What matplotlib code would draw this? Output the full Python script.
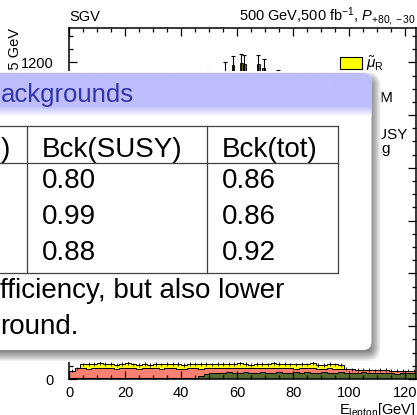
import numpy as np
import matplotlib.pyplot as plt
from matplotlib.patches import FancyBboxPatch, Rectangle
from matplotlib.ticker import MultipleLocator

plt.rcParams['font.family'] = ['Liberation Sans', 'DejaVu Sans']
plt.rcParams['mathtext.fontset'] = 'custom'
plt.rcParams['mathtext.rm'] = 'Liberation Sans'
plt.rcParams['mathtext.it'] = 'Liberation Sans:italic'
plt.rcParams['mathtext.bf'] = 'Liberation Sans:bold'

# lepton energy spectrum, 2 GeV bins
edges = np.arange(0, 126, 2)
sm = [3, 4, 3, 4, 4, 3, 4, 3, 4, 4, 3, 4, 3, 4, 4, 3, 4, 3, 4, 3, 4, 4, 5,
      11, 19, 23, 24, 22, 25, 24, 23, 25, 22, 24, 26, 23, 24, 25, 22, 24,
      26, 23, 25, 24, 22, 25, 23, 24, 26, 22, 24, 23, 25, 22, 24, 21, 23, 22, 20, 23, 21, 22]
susy = [28, 36, 38, 35, 37, 39, 36, 38, 35, 37, 39, 36, 34, 37, 36, 38, 35, 37, 39, 36, 34, 37, 35,
        28, 21, 17, 16, 19, 15, 17, 19, 15, 18, 16, 14, 17, 18, 15, 19, 16,
        13, 17, 15, 18, 16, 14, 17, 15, 13, 17, 12, 11, 10, 12, 9, 13, 11, 10, 12, 9, 11, 10]
smuon = [0, 0, 14, 17, 15, 18, 16, 17, 15, 16, 18, 15, 17, 16, 14, 17, 16, 18, 15, 17, 16, 15, 17,
         18, 16, 15, 17, 16, 18, 15, 17, 16, 14, 17, 16, 15, 18, 16, 17, 15,
         16, 17, 15, 18, 16, 15, 17, 16, 15, 0, 0, 0, 0, 0, 0, 0, 0, 0, 0, 0, 0, 0]

# peak region, 1 GeV bins
peak_edges = np.arange(49, 76)
peak = [1135, 1100, 1090, 1110, 1130, 1105, 1167, 1115, 1100, 1188, 1120, 1110, 1197,
        1195, 1100, 1095, 1110, 1105, 1195, 1120, 1180, 1100, 1135, 1100, 1090, 1138]

# table on the slide overlay
tab_head = ["Bck(SM)", "Bck(SUSY)", "Bck(tot)"]
bck_susy = ["0.80", "0.99", "0.88"]
bck_tot = ["0.86", "0.86", "0.92"]

yellow = '#ffff00'
salmon = '#fa8072'
olive = '#556b2f'
peakcol = '#6e6e10'
hdr_bg = np.array([190, 190, 252]) / 255
hdr_fg = '#3535b0'

fig = plt.figure(figsize=(4.17, 4.15), dpi=100)
ax = fig.add_axes([69 / 417, 36 / 415, 347 / 417, 351 / 415])

lvl1 = np.array(sm, float)
lvl2 = lvl1 + np.array(susy)
lvl3 = lvl2 + np.array(smuon)
ax.stairs(lvl1, edges, baseline=0, fill=True, color=olive)
ax.stairs(lvl2, edges, baseline=lvl1, fill=True, color=salmon)
ax.stairs(lvl3, edges, baseline=lvl2, fill=True, color=yellow)
for lv in (lvl1, lvl2, lvl3):
    ax.stairs(lv, edges, color='k', lw=0.7)
centers = edges[:-1] + 1
ax.errorbar(centers, lvl3, yerr=np.sqrt(lvl3), fmt='none', ecolor='k', elinewidth=0.6)

pc = peak_edges[:-1] + 0.5
pk = np.array(peak, float)
err = np.sqrt(pk)
ax.bar(pc, err, bottom=pk - err, width=1.0, color=peakcol, edgecolor='k', lw=0.6)
ax.errorbar(pc, pk, yerr=err, fmt='none', ecolor='k', elinewidth=0.8, capsize=1.5, capthick=0.8)

ax.set_xlim(0, 123.8)
ax.set_ylim(0, 1330)
ax.xaxis.set_major_locator(MultipleLocator(20))
ax.xaxis.set_minor_locator(MultipleLocator(5))
ax.yaxis.set_major_locator(MultipleLocator(200))
ax.yaxis.set_minor_locator(MultipleLocator(50))
ax.tick_params(which='both', direction='in', top=True, right=True, labelsize=10.5, width=0.9)
ax.tick_params(which='major', length=6)
ax.tick_params(which='minor', length=3)
ax.tick_params(axis='y', pad=11)
ax.tick_params(axis='x', pad=5)
for sp in ax.spines.values():
    sp.set_linewidth(1.1)

ax.set_title('SGV', loc='left', fontsize=10.5, pad=5)
ax.set_title(r'500 GeV,500 fb$^{-1}$, $P_{\mathit{+80,-30}}$', loc='right', fontsize=10.5, pad=5)
ax.set_xlabel(r'E$_{\mathrm{lepton}}$[GeV]', loc='right', fontsize=10.5, labelpad=1)
ax.set_ylabel('Events / 0.5 GeV', loc='top', fontsize=10.5)
ax.yaxis.set_label_coords(-(69 - 22) / 347, 1.0)

# overlay in pixel coordinates (origin top-left)
ov = fig.add_axes([0, 0, 1, 1], zorder=5)
ov.patch.set_visible(False)
ov.axis('off')

# legend (partly hidden by the slide box)
ov.add_patch(Rectangle((340.5, 57), 22, 12, fc=yellow, ec='k', lw=0.8, zorder=1))
ov.text(366, 64, r'$\tilde{\mu}_{\mathrm{R}}$', va='center', fontsize=11, zorder=1)
ov.add_patch(Rectangle((340.5, 92), 22, 12, fc=olive, ec='k', lw=0.8, zorder=1))
ov.text(370, 98, 'SM', va='center', fontsize=11, zorder=1)
ov.add_patch(Rectangle((340.5, 135), 22, 12, fc=salmon, ec='k', lw=0.8, zorder=1))
ov.text(366, 135, 'SUSY', va='center', fontsize=11, zorder=1)
ov.text(366, 149, 'bkg', va='center', fontsize=11, zorder=1)

X0, X1, Y0, Y1 = -40, 371.5, 73, 350
DX, DY = 3, 5
# opaque backing for the drop shadow, then soft grey layers
ov.add_patch(FancyBboxPatch((X0 + DX - 7, Y0 + DY - 7), (X1 - X0) + 14, (Y1 - Y0) + 14,
                            boxstyle='round,pad=0,rounding_size=15',
                            fc='white', ec='none', zorder=1.9))
for s in range(-5, 7):
    ov.add_patch(FancyBboxPatch((X0 + DX - s, Y0 + DY - s), (X1 - X0) + 2 * s, (Y1 - Y0) + 2 * s,
                                boxstyle=f'round,pad=0,rounding_size={max(8 + s, 1)}',
                                fc='k', ec='none', alpha=0.055, zorder=2))
box = FancyBboxPatch((X0, Y0), X1 - X0, Y1 - Y0, boxstyle='round,pad=0,rounding_size=8',
                     fc='white', ec='none', zorder=3)
ov.add_patch(box)

rows = np.arange(73, 117)
t = np.clip((rows - 106) / 10, 0, 1)[:, None]
img = (hdr_bg * (1 - t) + t)[:, None, :]
im = ov.imshow(img, extent=(X0, X1, 117, 73), aspect='auto', zorder=3.5, interpolation='bilinear')
im.set_clip_path(box)
ov.set_xlim(0, 417)
ov.set_ylim(415, 0)

ov.text(1, 101.5, 'B', ha='right', va='baseline', fontsize=18.5, color=hdr_fg, zorder=4)
ov.text(1, 101.5, 'ackgrounds', ha='left', va='baseline', fontsize=18.5, color=hdr_fg, zorder=4)

lc = '#404040'
for yy in (126.5, 163.5, 273):
    ov.plot([X0, 338], [yy, yy], color=lc, lw=0.9, zorder=4)
for xx in (27, 207, 338):
    ov.plot([xx, xx], [126.5, 273], color=lc, lw=0.9, zorder=4)

fs = 20
ov.text(1, 156.5, tab_head[0][:-1], ha='right', va='baseline', fontsize=fs, zorder=4)
ov.text(1, 156.5, tab_head[0][-1], ha='left', va='baseline', fontsize=fs, zorder=4)
ov.text(41.5, 156.5, tab_head[1], ha='left', va='baseline', fontsize=fs, zorder=4)
ov.text(221.5, 156.5, tab_head[2], ha='left', va='baseline', fontsize=fs, zorder=4)
for i, yb in enumerate((188.3, 224.2, 260)):
    ov.text(41.5, yb, bck_susy[i], ha='left', va='baseline', fontsize=fs, zorder=4)
    ov.text(221.5, yb, bck_tot[i], ha='left', va='baseline', fontsize=fs, zorder=4)

ov.text(0.5, 298, 'Lower e', ha='right', va='baseline', fontsize=fs, zorder=4)
ov.text(0.5, 298, 'fficiency, but also lower', ha='left', va='baseline', fontsize=fs, zorder=4)
ov.text(0.5, 333.5, 'backg', ha='right', va='baseline', fontsize=fs, zorder=4)
ov.text(0.5, 333.5, 'round.', ha='left', va='baseline', fontsize=fs, zorder=4)

fig.savefig('out.png', dpi=100)
